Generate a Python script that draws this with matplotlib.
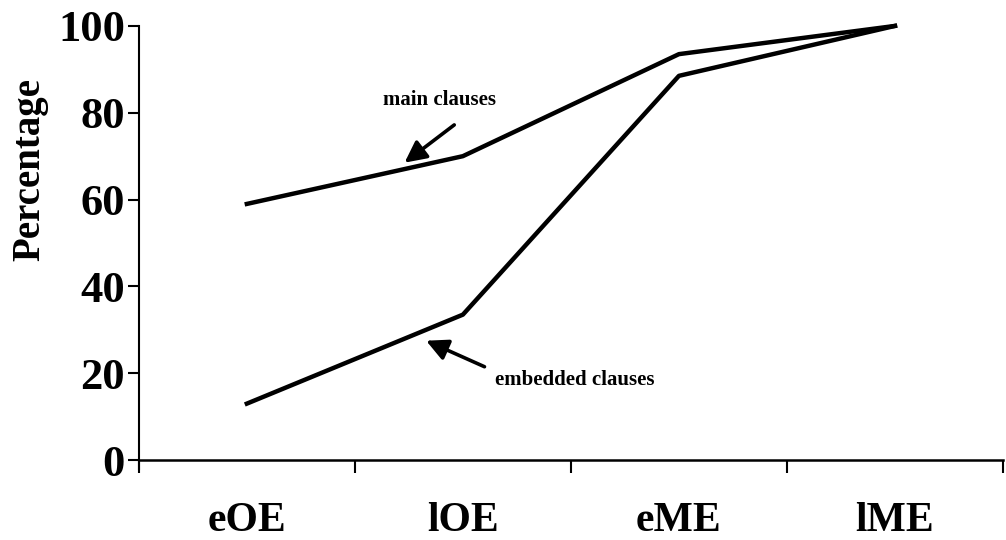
import matplotlib
matplotlib.use("Agg")
import matplotlib.pyplot as plt

periods = ["eOE", "lOE", "eME", "lME"]
main_clauses = [59, 70, 93.5, 100]
embedded_clauses = [13, 33.5, 88.5, 100]

plt.rcParams["font.family"] = ["Liberation Serif", "DejaVu Serif"]
plt.rcParams["font.weight"] = "bold"

fig = plt.figure(figsize=(10.06, 5.4), dpi=100)
ax = fig.add_axes([0.138, 0.148, 0.859, 0.804])

x = list(range(len(periods)))
ax.plot(x, main_clauses, color="black", lw=3.2, clip_on=False)
ax.plot(x, embedded_clauses, color="black", lw=3.2, clip_on=False)

ax.set_xlim(-0.5, len(periods) - 0.5)
ax.set_ylim(0, 100)
ax.set_yticks(range(0, 101, 20))
ax.set_xticks([i - 0.5 for i in range(len(periods) + 1)])
ax.set_xticklabels([])
ax.set_xticks(x, minor=True)
ax.set_xticklabels(periods, minor=True)
ax.tick_params(axis="x", which="minor", length=0, pad=30, labelsize=30)
ax.tick_params(axis="x", which="major", direction="out", length=9, width=1.5)
ax.tick_params(axis="y", direction="out", length=8, width=1.5, labelsize=32, pad=2)
for lbl in ax.get_xticklabels(minor=True) + ax.get_yticklabels():
    lbl.set_fontweight("bold")

ax.spines["top"].set_visible(False)
ax.spines["right"].set_visible(False)
ax.spines["left"].set_linewidth(1.5)
ax.spines["bottom"].set_linewidth(1.8)
ax.spines["left"].set_bounds(-2, 100)

ax.set_ylabel("Percentage", fontsize=28, fontweight="bold", labelpad=8)
ax.yaxis.set_label_coords(-0.105, 0.67)

# annotations: arrows then labels
arrow = dict(arrowstyle="-|>,head_length=1.3,head_width=0.65", color="black",
             lw=2.6, shrinkA=0, shrinkB=0)
ax.annotate("", xy=(0.73, 68.5), xytext=(0.96, 77.2), arrowprops=arrow)
ax.text(0.89, 83, "main clauses", fontsize=15, fontweight="bold",
        ha="center", va="center")
ax.annotate("", xy=(0.83, 27.5), xytext=(1.1, 21.5), arrowprops=arrow)
ax.text(1.52, 18.4, "embedded clauses", fontsize=15, fontweight="bold",
        ha="center", va="center")

fig.savefig("out.png", dpi=100)
